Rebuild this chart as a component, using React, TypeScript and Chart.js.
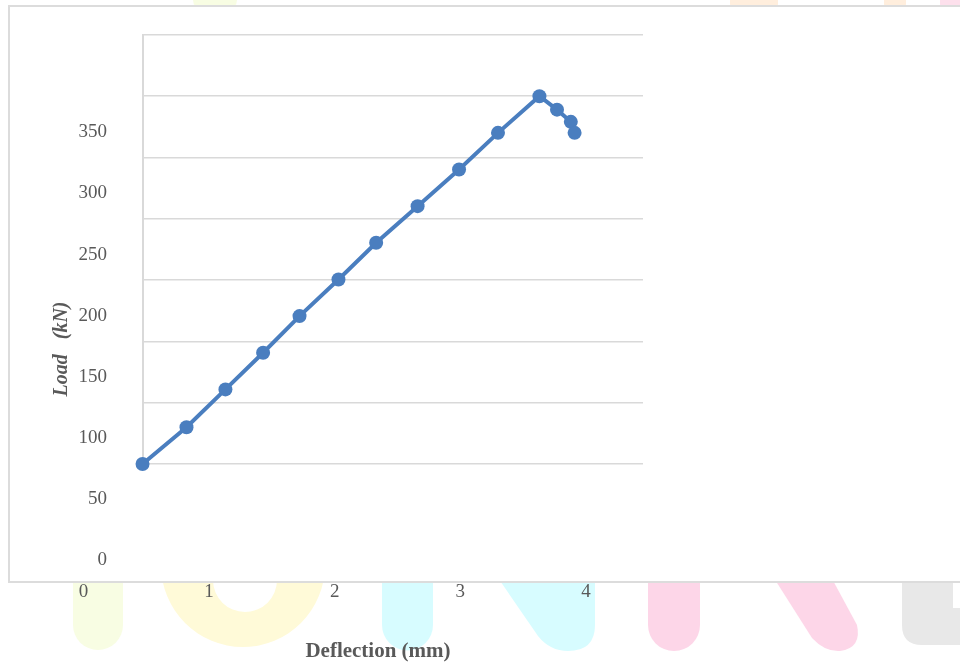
import React, { useEffect, useRef } from "react";
import { Chart, registerables } from "chart.js";

Chart.register(...registerables);

// ---- data ----
const deflectionMm = [0.47, 0.82, 1.13, 1.43, 1.72, 2.03, 2.33, 2.66, 2.99, 3.3, 3.63, 3.77, 3.88, 3.91];
const loadKN = [77, 107, 138, 168, 198, 228, 258, 288, 318, 348, 378, 367, 357, 348];
const xTickValues = [0, 1, 2, 3, 4];
const yTickValues = [0, 50, 100, 150, 200, 250, 300, 350];
const xAxisRange = [0.4737, 4.4546];
const yAxisRange = [76.94, 428.1];
const gridBands = 7;

const LINE_COLOR = "#4a7ebf";
const TEXT_COLOR = "#595959";
const GRID_COLOR = "#d9d9d9";
const SERIF = "'Liberation Serif', 'Times New Roman', serif";

const noPadding = (s: any) => {
  s.paddingLeft = 0;
  s.paddingRight = 0;
  s.paddingTop = 0;
  s.paddingBottom = 0;
};

export default function App() {
  const canvasRef = useRef<HTMLCanvasElement | null>(null);

  useEffect(() => {
    if (!canvasRef.current) return;
    const chart = new Chart(canvasRef.current, {
      type: "line",
      data: {
        datasets: [
          {
            label: "Load",
            data: deflectionMm.map((d, i) => ({ x: d, y: loadKN[i] })),
            borderColor: LINE_COLOR,
            backgroundColor: LINE_COLOR,
            borderWidth: 4,
            pointRadius: 7,
            pointHoverRadius: 7,
            pointBackgroundColor: LINE_COLOR,
            pointBorderWidth: 0,
            tension: 0,
            clip: false as any,
            xAxisID: "x",
            yAxisID: "y",
          },
        ],
      },
      options: {
        responsive: false,
        animation: false,
        devicePixelRatio: 1,
        layout: { padding: { top: 35, left: 0, right: 0, bottom: 0 } },
        plugins: {
          legend: { display: false },
          tooltip: { enabled: false },
          title: {
            display: true,
            position: "left",
            text: "Load   (kN)",
            color: TEXT_COLOR,
            font: { family: SERIF, size: 20, weight: "bold", style: "italic", lineHeight: 1.2 },
            padding: { top: 50, bottom: 0 },
          },
          subtitle: {
            display: true,
            position: "bottom",
            text: "Deflection (mm)",
            color: TEXT_COLOR,
            font: { family: SERIF, size: 21, weight: "bold", lineHeight: 1.1 },
            padding: { top: 0, bottom: 0 },
          },
        },
        scales: {
          x: {
            type: "linear",
            position: "bottom",
            min: xAxisRange[0],
            max: xAxisRange[1],
            afterBuildTicks: (s: any) => {
              s.ticks = xTickValues.map((v) => ({ value: v }));
            },
            afterFit: (s: any) => {
              s.height = 175.9;
              noPadding(s);
            },
            grid: { display: false, drawTicks: false },
            border: { display: false },
            ticks: {
              autoSkip: false,
              maxRotation: 0,
              padding: 116.6,
              color: TEXT_COLOR,
              font: { family: SERIF, size: 19, lineHeight: 1.2 },
            },
          },
          y: {
            type: "linear",
            position: "left",
            min: yAxisRange[0],
            max: yAxisRange[1],
            afterBuildTicks: (s: any) => {
              s.ticks = yTickValues.map((v) => ({ value: v }));
            },
            afterFit: (s: any) => {
              s.width = 69;
              noPadding(s);
            },
            grid: { display: false, drawTicks: false },
            border: { display: true, color: GRID_COLOR, width: 2 },
            ticks: {
              autoSkip: false,
              padding: 36,
              labelOffset: 2,
              color: TEXT_COLOR,
              font: { family: SERIF, size: 19, lineHeight: 1.2 },
            },
          },
          yg: {
            type: "linear",
            position: "right",
            min: 0,
            max: gridBands,
            afterFit: (s: any) => {
              s.width = 113;
              noPadding(s);
            },
            ticks: { display: false, stepSize: 1 },
            grid: { color: GRID_COLOR, lineWidth: 1.6, drawTicks: false },
            border: { display: false },
          },
        },
      },
    });
    return () => chart.destroy();
  }, []);

  return (
    <div
      style={{
        position: "fixed",
        left: 0,
        top: 0,
        width: 960,
        height: 663,
        overflow: "hidden",
        background: "#ffffff",
      }}
    >
      <svg
        width={960}
        height={663}
        style={{ position: "absolute", left: 0, top: 0, zIndex: 0 }}
      >
        {/* faint background watermark */}
        <rect x={193} y={-10} width={44} height={20} rx={10} fill="#f8fde3" />
        <rect x={730} y={-10} width={48} height={20} rx={6} fill="#ffeedd" />
        <rect x={884} y={-10} width={22} height={20} rx={6} fill="#ffeedd" />
        <rect x={940} y={-10} width={22} height={20} rx={6} fill="#fde0ec" />
        <path d="M73 560 V625 A25 25 0 0 0 123 625 V560 Z" fill="#f8fde3" />
        <path
          d="M161 560 V565 A82 82 0 0 0 325 565 V560 Z M213 560 V580 A32 32 0 0 0 277 580 V560 Z"
          fill="#fffad8"
          fillRule="evenodd"
        />
        <path d="M382 560 V625 A25.5 25.5 0 0 0 433 625 V560 Z" fill="#d7fcff" />
        <path d="M496 575 L538 636 Q550 651 568 651 Q595 651 595 625 V575 Z" fill="#d7fcff" />
        <path d="M648 560 V625 A26 26 0 0 0 700 625 V560 Z" fill="#fdd6e8" />
        <path d="M772 575 L812 638 Q825 652 840 651 Q862 648 857 625 L830 575 Z" fill="#fdd6e8" />
        <path d="M902 575 V625 Q902 645 922 645 H965 V575 Z" fill="#e8e8e8" />
        <rect x={953} y={575} width={12} height={33} fill="#ffffff" />
      </svg>
      <div
        style={{
          position: "absolute",
          left: 8,
          top: 5,
          width: 980,
          height: 578,
          boxSizing: "border-box",
          border: "2px solid #dcdcdc",
          background: "#ffffff",
          zIndex: 1,
        }}
      />
      <canvas
        ref={canvasRef}
        width={756}
        height={663}
        style={{ position: "absolute", left: 0, top: 0, zIndex: 2 }}
      />
    </div>
  );
}
